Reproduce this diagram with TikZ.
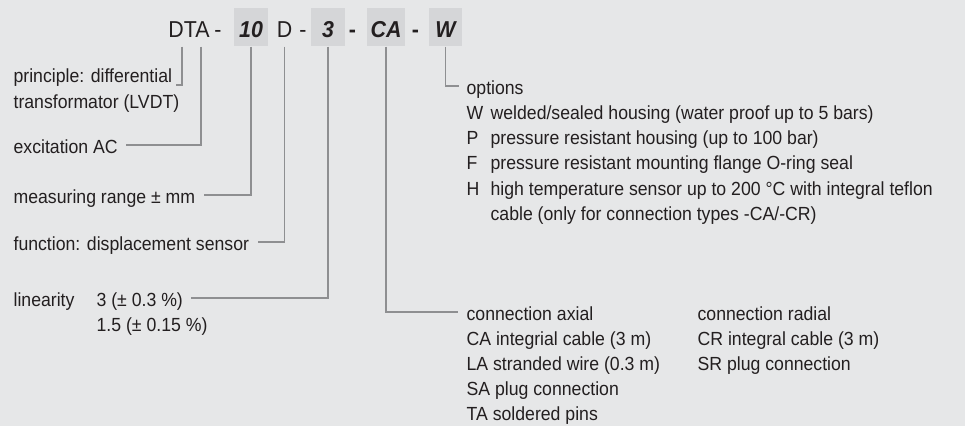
\documentclass[tikz,border=0pt]{standalone}
\usepackage{fontspec}
\setmainfont{Liberation Sans}[FakeStretch=0.93]
\definecolor{cbg}{HTML}{E6E7E8}
\definecolor{cbox}{HTML}{D5D6D8}
\definecolor{cline}{HTML}{8E8F91}
\definecolor{ctext}{HTML}{231F20}
\tikzset{
  every picture/.style={line width=1.2pt},
  headtxt/.style={minimum height=38pt, inner sep=0pt, text height=20pt, text depth=0pt, text=ctext, font=\fontsize{23}{27}\selectfont},
  codebox/.style={headtxt, fill=cbox, minimum width=34pt, font=\fontsize{23}{27}\selectfont\bfseries\itshape},
  txt/.style={anchor=base west, inner sep=0pt, text height=16pt, text depth=0pt, text=ctext, font=\fontsize{19}{23}\selectfont},
  lead/.style={draw=cline, line width=1.2pt},
}

\begin{document}
\begin{tikzpicture}[x=1pt, y=-1pt]
  \fill[cbg] (0,0) rectangle (965,426);
  \useasboundingbox (0,0) rectangle (965,426);
  % type code
  \node[headtxt] (dta) at (189,27) {DTA};
  \node[headtxt] (s1) at (218,27) {-};
  \node[codebox] (c10) at (251,27) {10};
  \node[headtxt] (dD) at (284.5,27) {D};
  \node[headtxt] (s2) at (303,27) {-};
  \node[codebox] (c3) at (328,27) {3};
  \node[headtxt, font=\fontsize{23}{27}\selectfont\bfseries] (s3) at (352.5,27) {-};
  \node[codebox, minimum width=38pt] (cCA) at (386,27) {CA};
  \node[headtxt, font=\fontsize{23}{27}\selectfont\bfseries] (s4) at (415.5,27) {-};
  \node[codebox, minimum width=33pt] (cW) at (445.5,27) {W};
  % left column
  \node[txt] (prin1) at (13,82) {principle: differential};
  \node[txt] (prin2) at (13,108) {transformator (LVDT)};
  \node[txt] (exc) at (13,153) {excitation AC};
  \node[txt] (range) at (13,203) {measuring range ± mm};
  \node[txt] (func) at (13,250) {function: displacement sensor};
  \node[txt] (lin) at (13,306) {linearity};
  \node[txt] (lin1) at (96,306) {3 (± 0.3 \%)};
  \node[txt] (lin2) at (96,331) {1.5 (± 0.15 \%)};
  % options
  \node[txt] (opt0) at (466,94) {options};
  \foreach \c/\t [count=\k] in {W/{welded/sealed housing (water proof up to 5 bars)},
     P/{pressure resistant housing (up to 100 bar)},
     F/{pressure resistant mounting flange O-ring seal},
     H/{high temperature sensor up to 200 °C with integral teflon},
     {}/{cable (only for connection types -CA/-CR)}} {
    \node[txt] (optk\k) at (466,94+25.3*\k) {\c};
    \node[txt] (opt\k) at (490,94+25.3*\k) {\t};
  }
  % connections
  \node[txt] (con0) at (466,320) {connection axial};
  \foreach \t [count=\k] in {CA integrial cable (3 m), LA stranded wire (0.3 m),
     SA plug connection, TA soldered pins} {
    \node[txt] (con\k) at (466,320+25*\k) {\t};
  }
  \node[txt] (rad0) at (697,320) {connection radial};
  \foreach \t [count=\k] in {CR integral cable (3 m), SR plug connection} {
    \node[txt] (rad\k) at (697,320+25*\k) {\t};
  }
  % leaders
  \draw[lead] ([xshift=-7pt]dta.south) |- ([xshift=3pt, yshift=-3pt]prin1.base east);
  \draw[lead] ([xshift=12pt]dta.south) |- ([xshift=8pt]exc.east);
  \draw[lead] (c10.south) |- ([xshift=8pt]range.east);
  \draw[lead] (dD.south) |- ([xshift=8pt]func.east);
  \draw[lead] (c3.south) |- ([xshift=8pt]lin1.east);
  \draw[lead] (cCA.south) |- ([xshift=-8pt]con0.west);
  \draw[lead] (cW.south) |- ([xshift=-7pt]opt0.west);
\end{tikzpicture}
\end{document}
